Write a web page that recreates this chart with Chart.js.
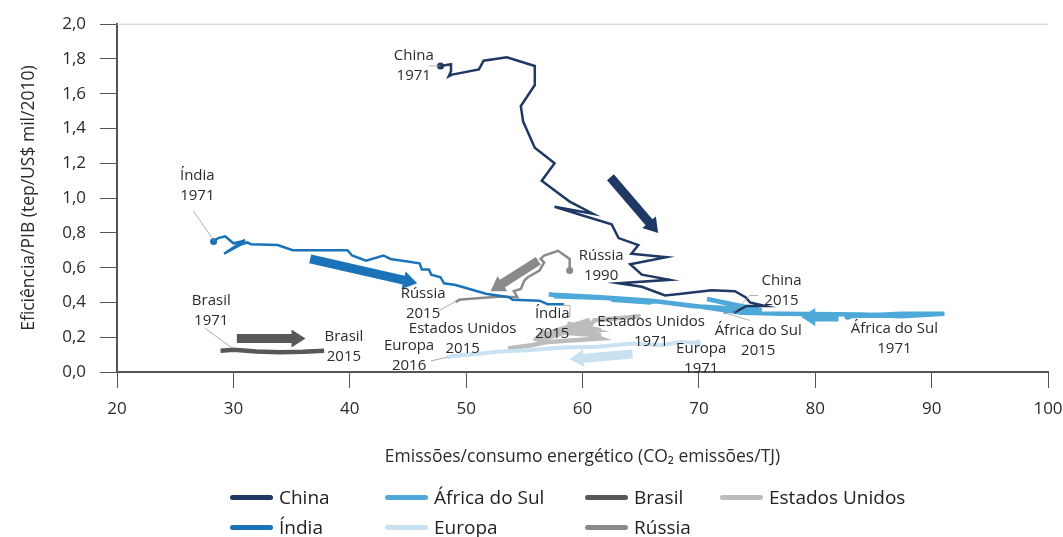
<!DOCTYPE html>
<html>
<head>
<meta charset="utf-8">
<script src="https://cdn.jsdelivr.net/npm/chart.js@4.4.1/dist/chart.umd.min.js"></script>
<style>
body { margin: 0; background: #fff; font-family: "Open Sans", sans-serif; }
#wrap { position: relative; width: 1063px; height: 537px; }
#legend .item { position: absolute; display: flex; align-items: center; font-size: 19px; color: #222; line-height: 22px; transform: translateY(-50%); white-space: nowrap; }
#legend .sw { display: inline-block; width: 43px; height: 5px; border-radius: 3px; margin-right: 6px; }
</style>
</head>
<body>
<div id="wrap">
  <canvas id="chart" width="1063" height="537"></canvas>
  <div id="legend"></div>
</div>
<script>
// trajetórias [emissões/TJ, tep/US$ mil]
const china = [[47.8,1.76],[48.7,1.77],[48.7,1.73],[48.5,1.70],[48.8,1.71],[51.1,1.74],[51.5,1.79],[53.5,1.81],
  [55.9,1.76],[55.9,1.65],[54.7,1.53],[54.9,1.44],[55.9,1.29],[57.6,1.20],[56.5,1.10],[57.7,1.04],[58.9,0.98],
  [60.9,0.91],[57.6,0.95],[60.5,0.89],[62.5,0.85],[63.1,0.77],[64.8,0.73],[64.2,0.68],[67.2,0.66],[64.1,0.62],
  [65.1,0.56],[67.5,0.53],[63.1,0.51],[65.1,0.49],[67.1,0.44],[68.5,0.45],[71.1,0.47],[73.1,0.465],[74.0,0.43],
  [74.4,0.40],[75.7,0.38],[74.1,0.38],[73.0,0.34]];
const india = [[28.3,0.75],[28.7,0.77],[29.3,0.78],[30.0,0.74],[30.7,0.75],[31.0,0.76],[29.2,0.68],[30.7,0.735],
  [31.2,0.745],[31.5,0.735],[33.8,0.73],[35.1,0.70],[36.5,0.70],[39.8,0.70],[40.2,0.67],[41.4,0.64],[42.9,0.67],
  [43.5,0.65],[46.0,0.625],[46.2,0.59],[46.8,0.59],[47.0,0.56],[47.8,0.545],[48.1,0.51],[49.1,0.50],[51.7,0.45],
  [53.7,0.43],[54.0,0.415],[56.3,0.41],[57.0,0.39],[58.4,0.39]];
const africaSul = [[82.8,0.32],[87.4,0.335],[91.1,0.335],[87.4,0.32],[84.0,0.33],[77.1,0.335],[73.7,0.34],
  [70.2,0.375],[65.9,0.41],[61.6,0.43],[57.1,0.445],[60.7,0.43],[57.5,0.435],[62.0,0.425],[65.9,0.40],[62.5,0.415],
  [66.5,0.405],[69.4,0.38],[75.4,0.355],[70.7,0.42],[73.7,0.375],[72.1,0.345]];
const europa = [[69.9,0.167],[68.5,0.173],[66.8,0.154],[64.2,0.164],[61.3,0.145],[58.4,0.141],[55.6,0.126],
  [52.7,0.116],[51.3,0.107],[48.7,0.091],[48.4,0.084]];
const brasil = [[28.9,0.122],[30.0,0.128],[32.0,0.118],[34.0,0.113],[36.0,0.116],[37.8,0.122]];
const eua = [[65.0,0.32],[63.3,0.31],[61.0,0.297],[60.7,0.27],[59.3,0.25],[61.6,0.24],[58.7,0.278],[61.0,0.24],
  [57.6,0.23],[61.6,0.21],[60.5,0.22],[61.6,0.193],[59.3,0.183],[57.0,0.173],[55.6,0.154],[53.6,0.135]];
const russia = [[58.9,0.583],[58.9,0.65],[57.9,0.697],[56.7,0.67],[56.4,0.65],[56.7,0.63],[56.3,0.583],
  [55.3,0.545],[55.0,0.526],[54.7,0.478],[54.1,0.465],[54.4,0.43],[53.0,0.434],[50.4,0.421],[49.4,0.415],[49.1,0.402]];

// setas de tendência [x1, y1, x2, y2]
const arrowChina = [62.4, 1.12, 66.5, 0.80];
const arrowIndia = [36.6, 0.65, 45.8, 0.51];
const arrowRussia = [56.2, 0.64, 52.1, 0.465];
const arrowBrasil = [30.3, 0.193, 36.2, 0.193];
const arrowEua = [60.7, 0.287, 55.7, 0.183];
const arrowEuropa = [64.3, 0.103, 58.9, 0.073];
const arrowAfrica = [82.0, 0.316, 78.8, 0.316];

const xTicks = [20, 30, 40, 50, 60, 70, 80, 90, 100];
const yTicks = ['0,0', '0,2', '0,4', '0,6', '0,8', '1,0', '1,2', '1,4', '1,6', '1,8', '2,0'];

const colors = {
  china: '#1f3864', india: '#1a73b9', africa: '#4ea9d9', europa: '#c9e2f2',
  brasil: '#585858', eua: '#bcbcbe', russia: '#8a8a8c'
};

const series = [
  { label: 'China', data: china, color: colors.china, width: 2.5, start: true },
  { label: 'Índia', data: india, color: colors.india, width: 2.5, start: true },
  { label: 'África do Sul', data: africaSul, color: colors.africa, width: 4.5, start: true },
  { label: 'Rússia', data: russia, color: colors.russia, width: 2.5, start: true },
  { label: 'Europa', data: europa, color: colors.europa, width: 4, start: true },
  { label: 'Brasil', data: brasil, color: colors.brasil, width: 4.5, start: false },
  { label: 'Estados Unidos', data: eua, color: colors.eua, width: 4.5, start: false }
];

const arrows = [
  { a: arrowChina, color: colors.china },
  { a: arrowIndia, color: colors.india },
  { a: arrowRussia, color: colors.russia },
  { a: arrowBrasil, color: colors.brasil },
  { a: arrowEua, color: colors.eua },
  { a: arrowEuropa, color: colors.europa },
  { a: arrowAfrica, color: colors.africa }
];

// rótulos: texto + ponto (centro da 1a linha)
const notes = [
  { t: ['China', '1971'], x: 45.5, y: 1.817 },
  { t: ['Índia', '1971'], x: 26.9, y: 1.131 },
  { t: ['Rússia', '1990'], x: 61.6, y: 0.669 },
  { t: ['China', '2015'], x: 77.1, y: 0.526 },
  { t: ['Rússia', '2015'], x: 46.3, y: 0.451 },
  { t: ['Índia', '2015'], x: 57.4, y: 0.337 },
  { t: ['Estados Unidos', '2015'], x: 49.7, y: 0.251 },
  { t: ['Europa', '2016'], x: 45.1, y: 0.149 },
  { t: ['Brasil', '1971'], x: 28.1, y: 0.411 },
  { t: ['Brasil', '2015'], x: 39.5, y: 0.200 },
  { t: ['Estados Unidos', '1971'], x: 65.9, y: 0.291 },
  { t: ['Europa', '1971'], x: 70.2, y: 0.131 },
  { t: ['África do Sul', '2015'], x: 75.1, y: 0.240 },
  { t: ['África do Sul', '1971'], x: 86.8, y: 0.251 }
];
const leaders = [
  [[46.8,1.76],[47.8,1.76]],
  [[26.55,0.926],[28.35,0.754]],
  [[75.1,0.44],[74.35,0.44],[72.97,0.337]],
  [[47.56,0.349],[49.11,0.406]],
  [[58.42,0.383],[58.93,0.383],[58.93,0.32],[58.5,0.314]],
  [[46.96,0.063],[48.42,0.086]],
  [[27.58,0.251],[29.9,0.137]],
  [[74.35,0.297],[72.11,0.343]]
];

const legendOrder = ['China', 'África do Sul', 'Brasil', 'Estados Unidos', 'Índia', 'Europa', 'Rússia'];
const legendSlots = [[230,497],[385,497],[585,497],[720,497],[230,527],[385,527],[585,527]];

function drawArrow(ctx, x1, y1, x2, y2, color) {
  const ang = Math.atan2(y2 - y1, x2 - x1);
  const len = Math.hypot(x2 - x1, y2 - y1);
  const w = 9, head = 14, hw = 9;
  ctx.save();
  ctx.translate(x1, y1);
  ctx.rotate(ang);
  ctx.fillStyle = color;
  ctx.beginPath();
  ctx.moveTo(0, -w / 2);
  ctx.lineTo(len - head, -w / 2);
  ctx.lineTo(len - head, -hw);
  ctx.lineTo(len, 0);
  ctx.lineTo(len - head, hw);
  ctx.lineTo(len - head, w / 2);
  ctx.lineTo(0, w / 2);
  ctx.closePath();
  ctx.fill();
  ctx.restore();
}

const extras = {
  id: 'extras',
  beforeDatasetsDraw(chart) {
    const { ctx, scales: { y }, chartArea } = chart;
    // linha do topo
    ctx.save();
    ctx.strokeStyle = '#c8c8c8';
    ctx.lineWidth = 1;
    ctx.beginPath();
    ctx.moveTo(chartArea.left, y.getPixelForValue(2));
    ctx.lineTo(chartArea.right, y.getPixelForValue(2));
    ctx.stroke();
    ctx.restore();
  },
  afterDatasetsDraw(chart) {
    const { ctx, scales: { x, y } } = chart;
    arrows.forEach(ar => {
      const [a, b, c, d] = ar.a;
      drawArrow(ctx, x.getPixelForValue(a), y.getPixelForValue(b), x.getPixelForValue(c), y.getPixelForValue(d), ar.color);
    });
    ctx.save();
    ctx.strokeStyle = '#9a9a9a';
    ctx.lineWidth = 0.8;
    leaders.forEach(pts => {
      ctx.beginPath();
      pts.forEach((p, i) => {
        const px = x.getPixelForValue(p[0]), py = y.getPixelForValue(p[1]);
        if (i === 0) ctx.moveTo(px, py); else ctx.lineTo(px, py);
      });
      ctx.stroke();
    });
    ctx.fillStyle = '#2b2b2b';
    ctx.font = '15px "Open Sans"';
    ctx.textAlign = 'center';
    ctx.textBaseline = 'middle';
    notes.forEach(n => {
      const px = x.getPixelForValue(n.x), py = y.getPixelForValue(n.y);
      n.t.forEach((s, i) => ctx.fillText(s, px, py + i * 20));
    });
    ctx.restore();
  }
};

Chart.defaults.font.family = '"Open Sans", sans-serif';
Chart.defaults.color = '#2b2b2b';

new Chart(document.getElementById('chart'), {
  type: 'scatter',
  data: {
    datasets: series.map(s => ({
      label: s.label,
      data: s.data.map(p => ({ x: p[0], y: p[1] })),
      showLine: true,
      borderColor: s.color,
      backgroundColor: s.color,
      borderWidth: s.width,
      borderJoinStyle: 'miter',
      pointRadius: s.data.map((p, i) => (i === 0 && s.start) ? 3.5 : 0),
      pointBackgroundColor: s.color,
      pointBorderWidth: 0
    }))
  },
  options: {
    responsive: false,
    animation: false,
    events: [],
    layout: { padding: { left: 0, right: 2, top: 22, bottom: 65 } },
    plugins: { legend: { display: false }, tooltip: { enabled: false } },
    scales: {
      x: {
        type: 'linear', min: 20, max: 100,
        afterBuildTicks: s => { s.ticks = xTicks.map(v => ({ value: v })); },
        afterFit: s => { s.height = 100; s.paddingLeft = 0; s.paddingRight = 15; },
        grid: { drawOnChartArea: false, drawTicks: true, tickLength: 16, color: '#555', tickWidth: 1 },
        border: { color: '#555', width: 2 },
        ticks: { padding: 11, font: { size: 17 }, color: '#2b2b2b', maxRotation: 0 },
        title: { display: true, text: 'Emissões/consumo energético (CO₂ emissões/TJ)', font: { size: 17.5 }, color: '#2b2b2b', padding: { top: 0, bottom: 4 } }
      },
      y: {
        type: 'linear', min: 0, max: 2,
        afterBuildTicks: s => { s.ticks = yTicks.map((t, i) => ({ value: i * 0.2 })); },
        afterFit: s => { s.width = 117; },
        grid: { drawOnChartArea: false, drawTicks: true, tickLength: 17, color: '#555', tickWidth: 1 },
        border: { color: '#555', width: 2 },
        ticks: { padding: 14, font: { size: 17 }, color: '#2b2b2b', callback: (v, i) => yTicks[i] },
        title: { display: true, text: 'Eficiência/PIB (tep/US$ mil/2010)', font: { size: 17.5 }, color: '#2b2b2b', padding: { top: 19, bottom: 0 } }
      }
    }
  },
  plugins: [extras]
});

// legenda em grade
const legend = document.getElementById('legend');
legendOrder.forEach((name, i) => {
  const s = series.find(d => d.label === name);
  const el = document.createElement('div');
  el.className = 'item';
  el.style.left = legendSlots[i][0] + 'px';
  el.style.top = legendSlots[i][1] + 'px';
  el.innerHTML = '<span class="sw" style="background:' + s.color + '"></span>' + name;
  legend.appendChild(el);
});
</script>
</body>
</html>
